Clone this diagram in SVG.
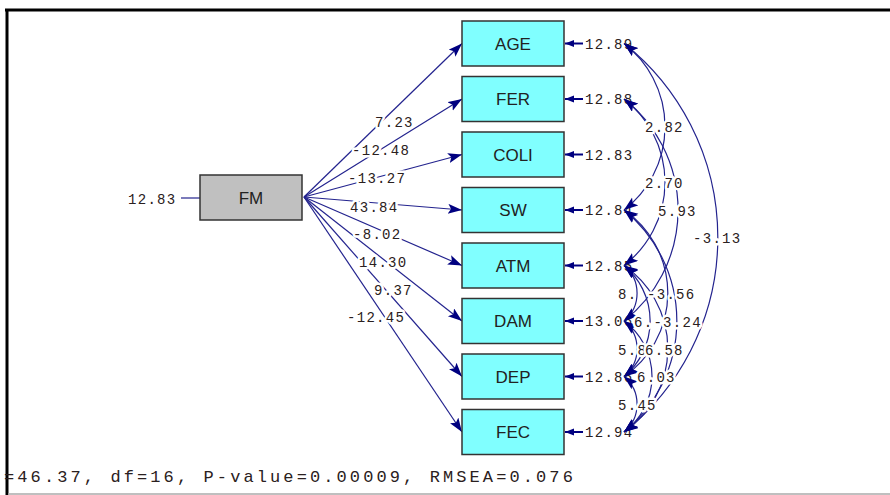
<svg xmlns="http://www.w3.org/2000/svg" width="890" height="495" viewBox="0 0 890 495">
<defs>
<style>
.box{fill:#80ffff;stroke:#333;stroke-width:1.5}
.fm{fill:#c0c0c0;stroke:#333;stroke-width:1.5}
.nt{font-family:"Liberation Sans",Arial,sans-serif;font-size:17px;fill:#222;text-anchor:middle}
.num{font-family:"Liberation Mono","Courier New",monospace;font-size:14px;letter-spacing:1.3px;fill:#2a2020}
.lbl{font-family:"Liberation Mono","Courier New",monospace;font-size:14px;letter-spacing:1.3px;fill:#2a2020;stroke:#fff;stroke-width:5px;paint-order:stroke;stroke-linejoin:round}
.ln{fill:none;stroke:#23238e;stroke-width:1.2}
.cov{fill:none;stroke:#23238e;stroke-width:1.2;marker-start:url(#ah);marker-end:url(#ah)}
.pth{fill:none;stroke:#23238e;stroke-width:1.2;marker-end:url(#ah)}
.err{fill:none;stroke:#000080;stroke-width:2;marker-end:url(#ahs)}
</style>
<marker id="ah" markerUnits="userSpaceOnUse" markerWidth="16" markerHeight="12" refX="14" refY="5" orient="auto-start-reverse">
<path d="M0,0 L14,5 L0,10 L3,5 Z" fill="#000080"/>
</marker>
<marker id="ahs" markerUnits="userSpaceOnUse" markerWidth="10" markerHeight="8" refX="9" refY="3.5" orient="auto">
<path d="M0,0 L9,3.5 L0,7 Z" fill="#000080"/>
</marker>
</defs>
<rect x="0" y="0" width="890" height="495" fill="#fff"/>
<line x1="5" y1="10" x2="890" y2="10" stroke="#000" stroke-width="3"/>
<line x1="7" y1="9" x2="7" y2="495" stroke="#000" stroke-width="3"/>
<line x1="8" y1="494" x2="890" y2="494" stroke="#aaa" stroke-width="1.5"/>

<g id="connectors">
<line class="pth" x1="304" y1="197" x2="462" y2="43.5"/>
<line class="pth" x1="304" y1="197" x2="462" y2="99"/>
<line class="pth" x1="304" y1="197" x2="462" y2="154.5"/>
<line class="pth" x1="304" y1="197" x2="462" y2="210"/>
<line class="pth" x1="304" y1="197" x2="462" y2="265.5"/>
<line class="pth" x1="304" y1="197" x2="462" y2="321"/>
<line class="pth" x1="304" y1="197" x2="462" y2="376.5"/>
<line class="pth" x1="304" y1="197" x2="462" y2="432"/>
<line class="ln" x1="181" y1="198" x2="200" y2="198"/>
<line class="err" x1="583" y1="43.5" x2="565" y2="43.5"/>
<line class="err" x1="583" y1="99" x2="565" y2="99"/>
<line class="err" x1="583" y1="154.5" x2="565" y2="154.5"/>
<line class="err" x1="583" y1="210" x2="565" y2="210"/>
<line class="err" x1="583" y1="265.5" x2="565" y2="265.5"/>
<line class="err" x1="583" y1="321" x2="565" y2="321"/>
<line class="err" x1="583" y1="376.5" x2="565" y2="376.5"/>
<line class="err" x1="583" y1="432" x2="565" y2="432"/>
</g>

<g id="FM">
<rect class="fm" x="200" y="175" width="102" height="45"/>
<text class="nt" x="251" y="204">FM</text>
<text class="num" x="128" y="204">12.83</text>
</g>
<g id="AGE"><rect class="box" x="462" y="21" width="102" height="45"/><text class="nt" x="513" y="49.5">AGE</text><text class="num" x="585" y="48.5">12.89</text></g>
<g id="FER"><rect class="box" x="462" y="76.5" width="102" height="45"/><text class="nt" x="513" y="105">FER</text><text class="num" x="585" y="104">12.88</text></g>
<g id="COLI"><rect class="box" x="462" y="132" width="102" height="45"/><text class="nt" x="513" y="160.5">COLI</text><text class="num" x="585" y="159.5">12.83</text></g>
<g id="SW"><rect class="box" x="462" y="187.5" width="102" height="45"/><text class="nt" x="513" y="216">SW</text><text class="num" x="585" y="215">12.84</text></g>
<g id="ATM"><rect class="box" x="462" y="243" width="102" height="45"/><text class="nt" x="513" y="271.5">ATM</text><text class="num" x="585" y="270.5">12.85</text></g>
<g id="DAM"><rect class="box" x="462" y="298.5" width="102" height="45"/><text class="nt" x="513" y="327">DAM</text><text class="num" x="585" y="326">13.06</text></g>
<g id="DEP"><rect class="box" x="462" y="354" width="102" height="45"/><text class="nt" x="513" y="382.5">DEP</text><text class="num" x="585" y="381.5">12.86</text></g>
<g id="FEC"><rect class="box" x="462" y="409.5" width="102" height="45"/><text class="nt" x="513" y="438">FEC</text><text class="num" x="585" y="437">12.94</text></g>

<g id="covariances">
<path class="cov" d="M624,43.5 A105,105 0 0 1 624,210"/>
<path class="cov" d="M624,99 A105,105 0 0 1 624,265.5"/>
<path class="cov" d="M624,99 A141,141 0 0 1 624,321"/>
<path class="cov" d="M624,43.5 A248,248 0 0 1 624,432"/>
<path class="cov" d="M624,265.5 A36,36 0 0 1 624,321"/>
<path class="cov" d="M624,210 A101,101 0 0 1 624,376.5"/>
<path class="cov" d="M624,265.5 A72,72 0 0 1 624,376.5"/>
<path class="cov" d="M624,210 A143,143 0 0 1 624,432"/>
<path class="cov" d="M624,321 A36,36 0 0 1 624,376.5"/>
<path class="cov" d="M624,265.5 A101,101 0 0 1 624,432"/>
<path class="cov" d="M624,321 A69,69 0 0 1 624,432"/>
<path class="cov" d="M624,376.5 A36,36 0 0 1 624,432"/>
</g>

<g id="path-labels">
<text class="lbl" x="375" y="127">7.23</text>
<text class="lbl" x="352" y="155">-12.48</text>
<text class="lbl" x="348" y="183">-13.27</text>
<text class="lbl" x="350" y="212">43.84</text>
<text class="lbl" x="353" y="239">-8.02</text>
<text class="lbl" x="359" y="267">14.30</text>
<text class="lbl" x="374" y="295">9.37</text>
<text class="lbl" x="347" y="322">-12.45</text>
</g>

<g id="cov-labels">
<text class="lbl" x="645" y="132">2.82</text>
<text class="lbl" x="645" y="188">2.70</text>
<text class="lbl" x="658" y="216">5.93</text>
<text class="lbl" x="693" y="243">-3.13</text>
<text class="lbl" x="618" y="299">8.</text>
<text class="lbl" x="647" y="299">-3.56</text>
<text class="lbl" x="634" y="327">6.-3.24</text>
<text class="lbl" x="618" y="355">5.8</text>
<text class="lbl" x="645" y="355">6.58</text>
<text class="lbl" x="637" y="382">6.03</text>
<text class="lbl" x="618" y="410">5.45</text>
</g>

<text x="4" y="482" font-family="'Liberation Mono','Courier New',monospace" font-size="17" letter-spacing="3.1" fill="#2a2020">=46.37, df=16, P-value=0.00009, RMSEA=0.076</text>
</svg>
